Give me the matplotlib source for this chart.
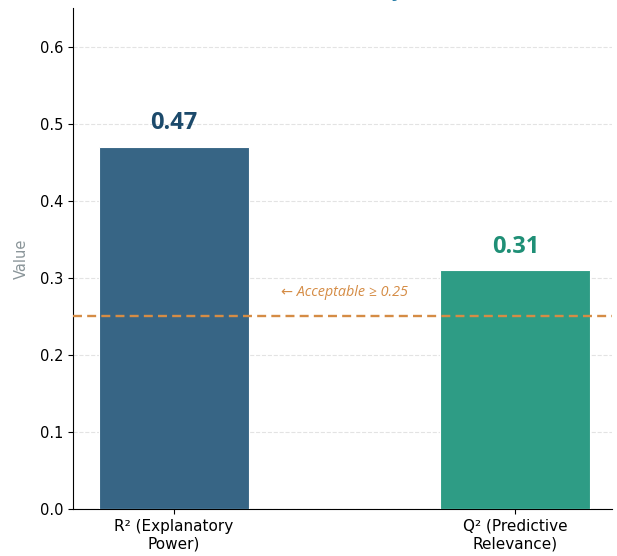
import matplotlib
matplotlib.use("Agg")
import matplotlib.pyplot as plt

# Structural model quality indices
metrics = ["R² (Explanatory\nPower)", "Q² (Predictive\nRelevance)"]
values = [0.47, 0.31]
threshold = 0.25
bar_colors = ["#376585", "#2e9c85"]
label_colors = ["#1c4a6b", "#1f8f76"]

fig = plt.figure(figsize=(6.17, 5.56), dpi=100)
ax = fig.add_axes([0.1183, 0.0845, 0.874, 0.901])

x = list(range(len(metrics)))
ax.bar(x, values, width=0.44, color=bar_colors, edgecolor="white", linewidth=0.8, zorder=3)

for xi, v, c in zip(x, values, label_colors):
    ax.text(xi, v + 0.015, f"{v:.2f}", ha="center", va="bottom", fontsize=17,
            fontweight="bold", color=c, family=["Open Sans", "DejaVu Sans"], zorder=4)

ax.axhline(threshold, color="#d58c45", linestyle=(0, (3.8, 2.2)), linewidth=1.7, zorder=4)
ax.text(0.5, threshold + 0.021, "← Acceptable ≥ 0.25", ha="center", va="bottom",
        fontsize=10.4, style="italic", color="#d58c45", family=["Open Sans", "DejaVu Sans"])

ax.set_xlim(-0.296, 1.284)
ax.set_ylim(0, 0.65)
ax.set_xticks(x)
ax.set_xticklabels(metrics, fontsize=11, linespacing=1.25)
ax.set_yticks([0.0, 0.1, 0.2, 0.3, 0.4, 0.5, 0.6])
ax.tick_params(axis="y", labelsize=10.5)
ax.set_ylabel("Value", fontsize=10.5, color="#8a9599", labelpad=8)

ax.yaxis.grid(True, linestyle="--", color="#e3e3e3", linewidth=0.8, zorder=0)
ax.set_axisbelow(True)
for side in ("top", "right"):
    ax.spines[side].set_visible(False)

fig.text(0.547, 1.0 + 3 / 556, "Structural Model Quality (R² and Q²)", ha="center",
         va="baseline", fontsize=13, fontweight="bold", color="#2a7fa8")

fig.savefig("out.png", dpi=100)
